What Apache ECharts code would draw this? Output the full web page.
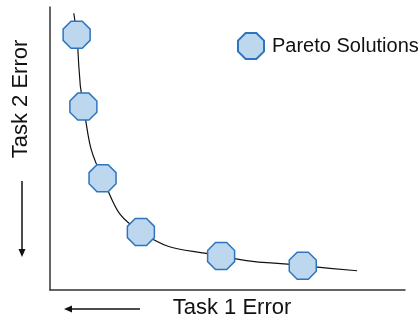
<!DOCTYPE html>
<html>
<head>
<meta charset="utf-8">
<script src="https://cdn.jsdelivr.net/npm/echarts@6/dist/echarts.min.js"></script>
<style>
  html, body { margin: 0; padding: 0; background: #fff; }
  #main { width: 419px; height: 318px; }
</style>
</head>
<body>
<div id="main"></div>
<script>
// pareto points (axis range 0..100 both ways)
var task1Err = [7.5, 9.4, 14.8, 25.6, 48.2, 71.2];
var task2Err = [90.2, 64.8, 39.5, 20.5, 12.0, 8.6];
// front curve, runs a bit past the first and last point
var curveX = [6.7, 7.5, 9.4, 14.8, 25.6, 48.2, 71.2, 86.5];
var curveY = [97.8, 90.2, 64.8, 39.5, 20.5, 12.0, 8.6, 6.8];

var octagon = 'path://M29.3,0L70.7,0L100,29.3L100,70.7L70.7,100L29.3,100L0,70.7L0,29.3Z';
var font = 'Liberation Sans, Arial, sans-serif';

var chart = echarts.init(document.getElementById('main'));

chart.setOption({
  animation: false,
  grid: { left: 50, right: 14, top: 7, bottom: 28 },
  xAxis: {
    type: 'value', min: 0, max: 100,
    axisLine: { lineStyle: { color: '#333', width: 1.5 } },
    axisTick: { show: false }, axisLabel: { show: false }, splitLine: { show: false }
  },
  yAxis: {
    type: 'value', min: 0, max: 100,
    axisLine: { show: true, lineStyle: { color: '#333', width: 1.5 } },
    axisTick: { show: false }, axisLabel: { show: false }, splitLine: { show: false }
  },
  legend: {
    data: ['Pareto Solutions'],
    left: 232, top: 27,
    icon: octagon,
    itemWidth: 26, itemHeight: 26,
    textStyle: { fontFamily: font, fontSize: 20, color: '#111', padding: [0, 0, 0, 3] }
  },
  series: [
    {
      type: 'line',
      data: curveX.map(function (x, i) { return [x, curveY[i]]; }),
      smooth: 0.5,
      showSymbol: false,
      lineStyle: { color: '#111', width: 1.2 },
      z: 1
    },
    {
      name: 'Pareto Solutions',
      type: 'scatter',
      data: task1Err.map(function (x, i) { return [x, task2Err[i]]; }),
      symbol: octagon,
      symbolSize: 27,
      itemStyle: { color: '#bdd7ee', borderColor: '#2e75c0', borderWidth: 1.5, opacity: 1 },
      z: 3
    }
  ],
  graphic: [
    {
      type: 'text', x: 21, y: 99, rotation: Math.PI / 2,
      style: { text: 'Task 2 Error', fontFamily: font, fontSize: 22, fill: '#111',
               align: 'center', verticalAlign: 'middle' }
    },
    {
      type: 'text', x: 232, y: 308,
      style: { text: 'Task 1 Error', fontFamily: font, fontSize: 22, fill: '#111',
               align: 'center', verticalAlign: 'middle' }
    },
    // down arrow
    { type: 'line', shape: { x1: 22, y1: 181, x2: 22, y2: 250 }, style: { stroke: '#111', lineWidth: 1.5 } },
    { type: 'polygon', shape: { points: [[18.5, 249], [25.5, 249], [22, 257]] }, style: { fill: '#111' } },
    // left arrow
    { type: 'line', shape: { x1: 140, y1: 309, x2: 71, y2: 309 }, style: { stroke: '#111', lineWidth: 1.5 } },
    { type: 'polygon', shape: { points: [[72, 305.5], [72, 312.5], [64, 309]] }, style: { fill: '#111' } }
  ]
});
</script>
</body>
</html>
